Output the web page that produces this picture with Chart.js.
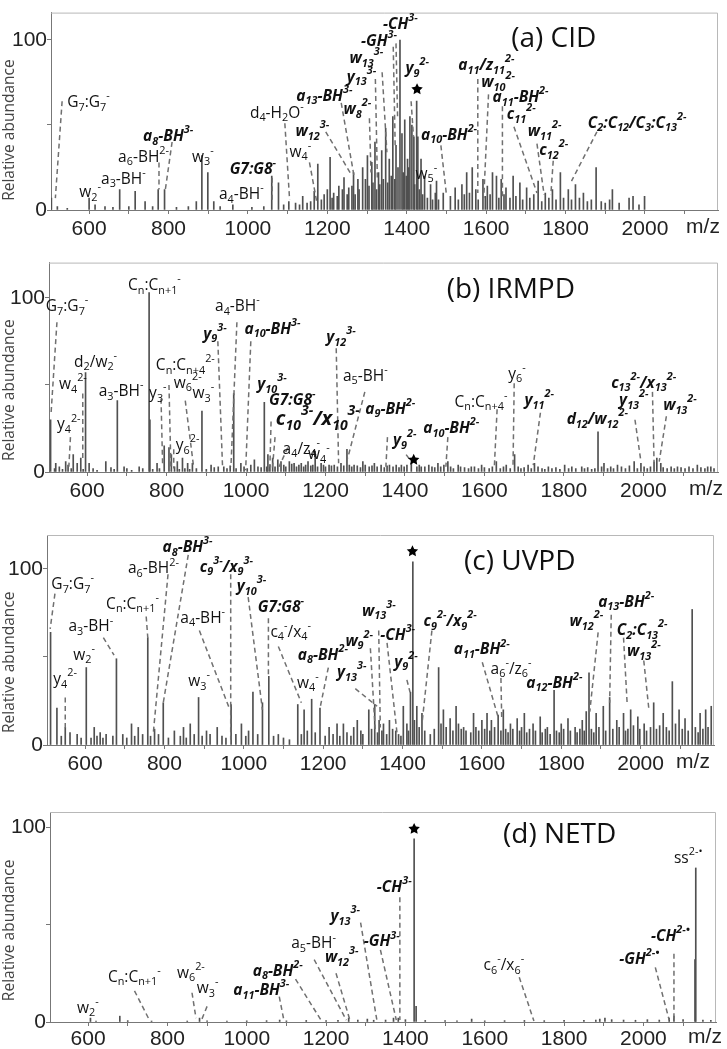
<!DOCTYPE html>
<html lang="en">
<head>
<meta charset="UTF-8">
<title>Tandem mass spectra: CID, IRMPD, UVPD, NETD</title>
<script src="https://cdn.jsdelivr.net/npm/chart.js@4.4.1/dist/chart.umd.min.js"></script>
<style>
  body { margin: 0; background: #fff; }
  #wrap { position: relative; width: 727px; height: 1049px; overflow: hidden; }
  #wrap canvas { position: absolute; left: 0; }
</style>
</head>
<body>
<div id="wrap">
  <canvas id="cid"></canvas>
  <canvas id="irmpd"></canvas>
  <canvas id="uvpd"></canvas>
  <canvas id="netd"></canvas>
</div>
<script>
// ---- peaks: [m/z, relative abundance] ----
var cidPeaks = [[505,7],[600,7],[615,3],[677,12],[716,11],[741,5],[774,12],[790,12],[870,5],[884,32],[899,22],[914,5],[962,3],
  [1060,20],[1077,16],[1103,5],[1138,8],[1149,4],[1167,11],[1176,27],[1207,31],[1216,10],[1229,14],[1242,19],[1254,13],[1266,22],
  [1277,18],[1289,25],[1301,32],[1312,28],[1320,40],[1329,22],[1337,35],[1347,48],[1356,30],[1365,55],[1373,38],[1383,100],
  [1388,45],[1395,53],[1402,30],[1408,55],[1413,50],[1418,43],[1425,64],[1428,43],[1436,30],[1445,20],[1460,15],[1472,10],
  [1475,17],[1492,10],[1522,13],[1539,15],[1551,22],[1565,25],[1574,12],[1592,18],[1603,14],[1616,22],[1626,20],[1638,18],
  [1650,13],[1668,20],[1685,16],[1702,13],[1720,9],[1731,17],[1749,10],[1767,12],[1787,22],[1807,12],[1825,15],[1845,10],
  [1877,25],[1911,6],[1918,12],[1960,7],[1970,8],[1999,8]];
var cidGrass = [[520,2],[545,1],[640,2],[660,1.5],[700,2],[760,2],[820,1.5],[850,2],[930,2],[1010,1.5],[1040,2],[1090,3],
  [1120,4],[1130,3],[1158,5],[1185,6],[1192,9],[1200,12],[1212,7],[1225,8],[1238,12],[1250,9],[1262,14],[1270,9],[1280,12],
  [1296,18],[1305,14],[1315,16],[1324,12],[1332,15],[1341,18],[1352,16],[1361,20],[1370,18],[1378,25],[1391,22],[1399,20],
  [1405,25],[1420,15],[1432,12],[1440,9],[1452,7],[1465,6],[1480,6],[1510,8],[1530,6],[1545,9],[1558,10],[1580,6],[1598,8],
  [1610,9],[1632,7],[1645,9],[1660,7],[1675,8],[1692,6],[1710,7],[1740,5],[1758,7],[1776,6],[1795,7],[1815,6],[1835,7],
  [1855,5],[1865,6],[1890,5],[1900,4],[1935,4],[1985,3]];

var irmpdPeaks = [[508,30],[521,5],[546,6],[552,4],[565,10],[575,5],[584,8],[596,57],[605,5],[647,6],[676,41],[693,3],[731,3],
  [756,103],[758,30],[776,5],[794,15],[806,14],[812,10],[827,6],[840,8],[853,5],[865,5],[889,35],[912,4],[944,3],[969,45],
  [987,5],[1021,7],[1046,40],[1055,10],[1067,8],[1080,7],[1088,6],[1109,6],[1121,5],[1139,5],[1156,6],[1174,12],[1189,5],
  [1209,4],[1239,5],[1254,13],[1272,4],[1294,6],[1323,5],[1361,4],[1391,4],[1416,5],[1441,3],[1483,5],[1508,6],[1534,4],
  [1567,3],[1593,4],[1630,6],[1655,4],[1676,10],[1710,4],[1726,5],[1761,3],[1802,4],[1845,3],[1886,23],[1901,5],[1935,4],
  [1977,6],[1994,5],[2027,6],[2034,8],[2044,5],[2086,3],[2136,4],[2170,3]];
var irmpdGrass = [[518,2],[530,3],[538,1.5],[560,2],[590,1.5],[615,2],[625,1],[660,2.5],[668,1.5],[700,2],[712,1],[740,2],
  [765,1.5],[782,2],[820,3],[832,1.5],[846,2],[858,1.5],[875,2],[900,1.5],[920,2.5],[930,3],[952,2],[960,3.5],[975,2],
  [995,3],[1003,2],[1012,4],[1030,3],[1038,2.5],[1052,3],[1060,4],[1073,3],[1095,4],[1100,3],[1115,4.5],[1127,3],[1133,4],
  [1145,3],[1150,4],[1163,3.5],[1168,4],[1180,3],[1195,4],[1200,3],[1215,3.5],[1222,4],[1230,3],[1246,3.5],[1260,4],
  [1266,3],[1280,3.5],[1288,2.5],[1300,4],[1310,3],[1317,3.5],[1330,3],[1340,4],[1348,2.5],[1355,3.5],[1370,3],[1378,4],
  [1385,2.5],[1398,3],[1405,4],[1430,3],[1436,4],[1450,3],[1460,4],[1468,3],[1475,2.5],[1490,3],[1498,4],[1515,3],[1522,2],
  [1540,3],[1550,2.5],[1560,2],[1575,3],[1585,2],[1600,2.5],[1612,2],[1620,3],[1640,2],[1648,3],[1665,2],[1685,3],[1692,2],
  [1700,2.5],[1718,2],[1735,3],[1745,2],[1752,1.5],[1770,2],[1780,2.5],[1790,1.5],[1812,2],[1820,3],[1830,2],[1852,2],
  [1860,2.5],[1870,1.5],[1878,2],[1895,3],[1910,2],[1918,3],[1925,2],[1945,3],[1955,2],[1965,3.5],[1985,2],[2002,3],
  [2010,2],[2018,3],[2050,2.5],[2060,2],[2070,3],[2078,2],[2095,2.5],[2105,2],[2115,3],[2125,2],[2145,2.5],[2155,2],
  [2162,3],[2178,2]];

var uvpdPeaks = [[513,64],[529,21],[550,10],[562,7],[603,44],[623,10],[638,7],[653,6],[679,49],[717,12],[734,10],[758,61],
  [775,9],[797,24],[825,8],[848,10],[865,12],[886,27],[906,8],[933,10],[968,23],[994,12],[1023,30],[1047,24],[1063,39],
  [1087,6],[1136,23],[1152,20],[1171,26],[1192,21],[1215,10],[1235,12],[1251,12],[1277,10],[1286,14],[1315,20],[1330,23],
  [1341,14],[1352,12],[1367,14],[1383,8],[1402,22],[1411,12],[1420,30],[1426,104],[1436,22],[1449,18],[1491,44],[1503,20],
  [1520,15],[1535,22],[1554,10],[1579,18],[1600,14],[1613,18],[1624,14],[1641,17],[1654,20],[1672,12],[1689,15],[1707,18],
  [1729,12],[1747,16],[1765,10],[1782,31],[1800,12],[1817,15],[1835,10],[1853,14],[1863,19],[1870,41],[1888,18],[1906,22],
  [1922,27],[1940,14],[1957,18],[1975,20],[1993,16],[2009,12],[2033,24],[2057,18],[2080,36],[2097,20],[2112,15],[2130,77],
  [2150,18],[2164,20],[2178,22]];
var uvpdGrass = [[540,5],[580,6],[590,4],[615,4],[630,5],[645,4],[670,5],[695,6],[705,4],[725,5],[745,6],[765,5],[785,6],
  [810,4],[840,5],[855,4],[875,6],[895,5],[915,6],[945,5],[955,4],[980,6],[1005,5],[1012,8],[1035,6],[1075,5],[1100,4],
  [1115,3],[1145,6],[1160,8],[1180,7],[1205,5],[1225,6],[1242,5],[1260,7],[1270,5],[1295,8],[1300,6],[1322,9],[1337,7],
  [1348,8],[1360,6],[1375,9],[1390,6],[1396,5],[1415,8],[1430,14],[1442,10],[1456,8],[1470,6],[1480,9],[1497,12],[1510,10],
  [1527,8],[1541,12],[1548,9],[1560,8],[1572,7],[1585,10],[1592,8],[1607,9],[1620,8],[1632,10],[1648,8],[1660,9],[1666,7],
  [1678,9],[1695,8],[1700,10],[1713,7],[1720,9],[1735,8],[1752,7],[1760,9],[1772,6],[1788,8],[1795,7],[1806,9],[1823,8],
  [1840,7],[1847,9],[1858,8],[1876,9],[1882,7],[1895,10],[1912,8],[1930,9],[1946,10],[1962,8],[1968,9],[1982,11],[1998,9],
  [2015,8],[2025,10],[2040,9],[2048,11],[2065,10],[2072,8],[2088,12],[2105,9],[2120,8],[2138,10],[2145,7],[2157,9],[2170,10]];

var netdPeaks = [[606,2],[680,3],[881,2],[1083,1],[1257,2],[1304,1.5],[1370,2],[1382,2],[1422,94],[1427,8],[1567,1.5],
  [1890,1.5],[1903,2],[2065,2],[2077,3],[2130,32],[2132,79]];
var netdGrass = [[620,0.5],[700,0.7],[760,0.5],[850,0.5],[900,0.6],[950,0.5],[1000,0.6],[1050,0.7],[1100,0.6],[1150,0.8],
  [1200,0.7],[1230,0.8],[1280,1],[1320,0.9],[1350,1],[1400,1.2],[1450,0.8],[1500,0.7],[1530,0.6],[1600,0.6],[1650,0.7],
  [1700,0.8],[1750,0.7],[1800,0.8],[1850,0.9],[1880,1],[1920,1.2],[1950,1],[1980,0.9],[2010,1.2],[2040,1],[2100,1.3],
  [2150,1],[2170,0.8]];

var xTickLabels = [600, 800, 1000, 1200, 1400, 1600, 1800, 2000];
var yTickLabels = [0, 100];

// ---- peak annotations: [label, kind, text m/z, text abundance, leader from m/z, ab, to m/z, ab] ----
// kind: n normal, b bold italic, B big bold italic, s star
var cidNotes = [
  ['G_{7}:G_{7}^{-}','n',545,63, 532,64, 515,7],
  ['w_{2}^{-}','n',575,10],
  ['a_{3}-BH^{-}','n',630,18],
  ['a_{6}-BH^{2-}','n',673,31, 776,28, 776,12],
  ['a_{8}-BH^{3-}','b',736,43, 809,40, 792,12],
  ['w_{3}^{-}','n',859,31],
  ['a_{4}-BH^{-}','n',927,9],
  ['G7:G8^{-}','b',954,24, 1061,19, 1061,6],
  ['d_{4}-H_{2}O^{-}','n',1005,57, 1093,51, 1105,6],
  ['w_{4}^{-}','n',1105,34, 1155,28, 1174,4],
  ['w_{12}^{3-}','b',1120,46, 1196,46, 1260,21],
  ['a_{13}-BH^{3-}','b',1122,67, 1235,63, 1268,19],
  ['w_{8}^{2-}','b',1241,59, 1306,54, 1310,22],
  ['y_{13}^{3-}','b',1249,78, 1321,77, 1326,19],
  ['w_{13}^{3-}','b',1256,89, 1338,81, 1350,34],
  ['-GH^{3-}','b',1285,99, 1366,96, 1371,37],
  ['-CH^{3-}','b',1340,109, 1373,98, 1377,54],
  ['y_{9}^{2-}','b',1397,83, 1411,64, 1417,43],
  ['*','s',1426,71],
  ['a_{10}-BH^{2-}','b',1436,44, 1486,38, 1500,9],
  ['w_{5}^{-}','n',1422,21],
  ['a_{11}/z_{11}^{2-}','b',1530,85, 1579,77, 1579,10],
  ['w_{10}^{2-}','b',1588,75, 1606,68, 1594,7],
  ['a_{11}-BH^{2-}','b',1616,66, 1641,61, 1641,7],
  ['c_{11}^{2-}','b',1652,56, 1670,49, 1728,10],
  ['w_{11}^{2-}','b',1705,46, 1728,39, 1746,9],
  ['c_{12}^{2-}','b',1734,35, 1769,29, 1763,9],
  ['C_{2}:C_{12}/C_{3}:C_{13}^{2-}','b',1856,51, 1879,46, 1815,17]
];
var irmpdNotes = [
  ['G_{7}:G_{7}^{-}','n',496,95, 524,86, 509,33],
  ['w_{4}^{2-}','n',529,50, 589,45, 589,6],
  ['d_{2}/w_{2}^{-}','n',567,63],
  ['y_{4}^{2-}','n',524,27, 558,20, 554,3],
  ['a_{3}-BH^{-}','n',629,46],
  ['C_{n}:C_{n+1}^{-}','n',703,107],
  ['C_{n}:C_{n+4}^{2-}','n',773,61, 806,50, 811,1],
  ['y_{3}^{-}','n',756,45, 786,42, 790,4],
  ['w_{6}^{2-}','n',818,51, 847,41, 868,3],
  ['w_{3}^{-}','n',865,45],
  ['y_{6}^{2-}','n',823,15, 818,13, 818,2],
  ['a_{4}-BH^{-}','n',922,95, 977,86, 962,3],
  ['y_{9}^{3-}','b',892,79, 929,75, 941,2],
  ['a_{10}-BH^{3-}','b',996,82, 1012,75, 999,1],
  ['y_{10}^{3-}','b',1028,50],
  ['G7:G8^{-}','b',1058,41, 1063,29, 1060,3],
  ['c_{10}^{3-}/x_{10}^{3-}','B',1075,30, 1073,20, 1066,1],
  ['a_{4}/z_{4}^{-}','n',1092,13, 1105,14, 1083,3],
  ['w_{4}^{-}','n',1156,10],
  ['y_{12}^{3-}','b',1202,77, 1227,71, 1233,5],
  ['a_{5}-BH^{-}','n',1244,55, 1299,46, 1256,8],
  ['a_{9}-BH^{2-}','b',1300,36, 1356,20, 1352,3],
  ['y_{9}^{2-}','b',1370,18, 1403,10, 1416,6],
  ['*','s',1422,7],
  ['a_{10}-BH^{2-}','b',1446,25, 1508,20, 1503,3],
  ['C_{n}:C_{n+4}^{-}','n',1525,40, 1632,36, 1625,3],
  ['y_{6}^{-}','n',1660,56, 1675,51, 1672,3],
  ['y_{11}^{2-}','b',1701,41, 1741,34, 1723,4],
  ['d_{12}/w_{12}^{2-}','b',1807,30],
  ['y_{13}^{2-}','b',1939,41, 1979,30, 1994,6],
  ['c_{13}^{2-}/x_{13}^{2-}','b',1919,51, 2023,46, 2027,6],
  ['w_{13}^{2-}','b',2050,38, 2058,32, 2040,6]
];
var uvpdNotes = [
  ['G_{7}:G_{7}^{-}','n',515,91, 524,86, 512,66],
  ['a_{3}-BH^{-}','n',558,67, 646,61, 673,51],
  ['w_{2}^{-}','n',570,51],
  ['y_{4}^{2-}','n',520,37, 550,27, 550,10],
  ['a_{6}-BH^{2-}','n',708,100, 809,97, 772,7],
  ['C_{n}:C_{n+1}^{-}','n',653,80, 754,73, 758,61],
  ['a_{8}-BH^{3-}','b',795,112, 860,108, 797,24],
  ['a_{4}-BH^{-}','n',840,72, 888,65, 965,20],
  ['w_{3}^{-}','n',860,36],
  ['c_{9}^{3-}/x_{9}^{3-}','b',889,101, 967,97, 967,3],
  ['y_{10}^{3-}','b',982,90, 1011,84, 1047,20],
  ['G7:G8^{-}','b',1035,78, 1062,72, 1062,39],
  ['c_{4}^{-}/x_{4}^{-}','n',1067,64, 1087,56, 1145,24],
  ['a_{8}-BH^{2-}','b',1136,51, 1213,44, 1193,22],
  ['w_{4}^{-}','n',1134,35],
  ['y_{13}^{3-}','b',1235,41, 1281,32, 1336,22],
  ['w_{9}^{2-}','b',1256,59, 1319,55, 1331,9],
  ['w_{13}^{3-}','b',1298,76, 1340,65, 1344,10],
  ['-CH^{3-}','b',1344,62, 1361,58, 1386,7],
  ['y_{9}^{2-}','b',1379,47, 1411,37, 1419,30],
  ['*','s',1425,110],
  ['c_{9}^{2-}/x_{9}^{2-}','b',1453,70, 1474,65, 1449,12],
  ['a_{11}-BH^{2-}','b',1529,54, 1601,47, 1642,15],
  ['a_{6}^{-}/z_{6}^{-}','n',1622,43, 1648,38, 1650,15],
  ['a_{12}-BH^{2-}','b',1712,35],
  ['w_{12}^{2-}','b',1821,70, 1893,64, 1872,19],
  ['a_{13}-BH^{2-}','b',1893,81, 1926,74, 1922,24],
  ['C_{2}:C_{13}^{2-}','b',1940,65, 1957,61, 1966,24],
  ['w_{13}^{2-}','b',1966,53, 2008,48, 2021,20]
];
var netdNotes = [
  ['w_{2}^{-}','n',572,7],
  ['C_{n}:C_{n+1}^{-}','n',650,23, 717,16, 752,2],
  ['w_{6}^{2-}','n',824,25, 862,15, 872,2],
  ['w_{3}^{-}','n',874,17, 900,8, 885,0.5],
  ['a_{11}-BH^{3-}','b',966,16, 1082,13, 1094,0.5],
  ['a_{8}-BH^{2-}','b',1015,26, 1123,22, 1187,1],
  ['a_{5}-BH^{-}','n',1112,40, 1170,32, 1251,1],
  ['w_{12}^{3-}','b',1197,33, 1225,25, 1260,1],
  ['y_{13}^{3-}','b',1211,54, 1287,51, 1328,1],
  ['-GH^{3-}','b',1295,41, 1337,37, 1377,1],
  ['-CH^{3-}','b',1328,69, 1386,64, 1386,1],
  ['*','s',1422,99],
  ['c_{6}^{-}/x_{6}^{-}','n',1597,29, 1687,23, 1724,0.5],
  ['-GH^{2-\u2022}','b',1939,32, 2030,28, 2065,1],
  ['-CH^{2-\u2022}','b',2019,44, 2077,35, 2077,1.5],
  ['ss^{2-\u2022}','n',2077,84]
];

var panels = [
  {id:'cid',   top:0,   height:250, areaTop:1,  areaBottom:210, left:51, right:718, xMax:2184, yMax:116.1,
   peaks:cidPeaks, grass:cidGrass, notes:cidNotes, title:'(a) CID', titleAt:[1663,100.5], tickPad:3, mzX:703},
  {id:'irmpd', top:250, height:262, areaTop:8,  areaBottom:222, left:49, right:718, xMax:2188, yMax:120.2,
   peaks:irmpdPeaks, grass:irmpdGrass, notes:irmpdNotes, title:'(b) IRMPD', titleAt:[1505,104.5], tickPad:3, mzX:706},
  {id:'uvpd',  top:512, height:275, areaTop:23, areaBottom:233, left:47, right:714, xMax:2185, yMax:119.3,
   peaks:uvpdPeaks, grass:uvpdGrass, notes:uvpdNotes, title:'(c) UVPD', titleAt:[1555,104], tickPad:3, mzX:693},
  {id:'netd',  top:787, height:262, areaTop:25, areaBottom:235, left:50, right:716, xMax:2183, yMax:107.7,
   peaks:netdPeaks, grass:netdGrass, notes:netdNotes, title:'(d) NETD', titleAt:[1646,96], tickPad:1, mzX:705}
];

var noteFont = '"Open Sans", "Noto Sans", sans-serif';
var tickFont = '"Liberation Sans", Arial, sans-serif';

function richText(ctx, str, x, y, kind) {
  var size = kind === 'B' ? 20 : (kind === 't' ? 28 : 15.5);
  var style = (kind === 'b' || kind === 'B') ? 'italic bold ' : '';
  var parts = str.split(/(_\{[^}]*\}|\^\{[^}]*\})/).filter(Boolean);
  var cx = x;
  ctx.textAlign = 'left';
  ctx.textBaseline = 'middle';
  ctx.fillStyle = '#111';
  parts.forEach(function (part) {
    var txt = part, fs = size, dy = 0;
    if (part[0] === '_') { txt = part.slice(2, -1); fs = size * 0.7; dy = size * 0.32; }
    else if (part[0] === '^') { txt = part.slice(2, -1); fs = size * 0.7; dy = -size * 0.42; }
    ctx.font = style + fs + 'px ' + noteFont;
    ctx.fillText(txt, cx, y + dy);
    cx += ctx.measureText(txt).width;
  });
}

function drawStar(ctx, cx, cy, r) {
  ctx.beginPath();
  for (var i = 0; i < 10; i++) {
    var a = -Math.PI / 2 + i * Math.PI / 5;
    var rr = i % 2 ? r * 0.5 : r;
    ctx.lineTo(cx + rr * Math.cos(a), cy + rr * Math.sin(a));
  }
  ctx.closePath();
  ctx.fillStyle = '#000';
  ctx.fill();
}

function notesPlugin(p) {
  return {
    id: 'notes_' + p.id,
    afterDraw: function (chart) {
      var ctx = chart.ctx, xs = chart.scales.x, ys = chart.scales.y, area = chart.chartArea;
      ctx.save();
      // light frame on top and right
      ctx.strokeStyle = '#b8b8b8';
      ctx.lineWidth = 1;
      ctx.beginPath();
      ctx.moveTo(area.left, area.top + 0.5);
      ctx.lineTo(area.right - 0.5, area.top + 0.5);
      ctx.lineTo(area.right - 0.5, area.bottom);
      ctx.stroke();

      // y title
      ctx.save();
      ctx.translate(10, ys.getPixelForValue(47));
      ctx.rotate(-Math.PI / 2);
      ctx.textAlign = 'center';
      ctx.textBaseline = 'middle';
      ctx.fillStyle = '#444';
      ctx.font = '15.5px ' + noteFont;
      ctx.fillText('Relative abundance', 0, 0);
      ctx.restore();

      // m/z label
      ctx.fillStyle = '#222';
      ctx.font = '21px ' + tickFont;
      ctx.textAlign = 'center';
      ctx.textBaseline = 'top';
      ctx.fillText('m/z', p.mzX, area.bottom + 4 + p.tickPad);

      // leaders
      ctx.setLineDash([5, 3.5]);
      ctx.strokeStyle = '#707070';
      ctx.lineWidth = 1.5;
      p.notes.forEach(function (n) {
        if (n.length > 4) {
          ctx.beginPath();
          ctx.moveTo(xs.getPixelForValue(n[4]), ys.getPixelForValue(n[5]));
          ctx.lineTo(xs.getPixelForValue(n[6]), ys.getPixelForValue(n[7]));
          ctx.stroke();
        }
      });
      ctx.setLineDash([]);

      // labels
      p.notes.forEach(function (n) {
        var tx = xs.getPixelForValue(n[2]), ty = ys.getPixelForValue(n[3]);
        if (n[1] === 's') drawStar(ctx, tx, ty, 6);
        else richText(ctx, n[0], tx, ty, n[1]);
      });
      richText(ctx, p.title, xs.getPixelForValue(p.titleAt[0]), ys.getPixelForValue(p.titleAt[1]), 't');
      ctx.restore();
    }
  };
}

function makeChart(p) {
  var canvas = document.getElementById(p.id);
  canvas.width = 727;
  canvas.height = p.height;
  canvas.style.top = p.top + 'px';
  var points = p.peaks.concat(p.grass).map(function (d) { return {x: d[0], y: d[1]}; });
  new Chart(canvas, {
    type: 'bar',
    data: { datasets: [{ data: points, backgroundColor: '#505050', borderWidth: 0, barThickness: 1 }] },
    options: {
      responsive: false,
      animation: false,
      devicePixelRatio: 1,
      layout: { padding: { top: p.areaTop, right: 727 - p.right, left: 0, bottom: 0 } },
      plugins: { legend: { display: false }, tooltip: { enabled: false } },
      scales: {
        x: {
          type: 'linear', min: 504, max: p.xMax, offset: false,
          grid: { display: true, drawOnChartArea: false, drawTicks: true, tickLength: 4, color: '#777', offset: false },
          border: { display: true, color: '#777', width: 1 },
          ticks: {
            stepSize: 100, includeBounds: false, autoSkip: false, maxRotation: 0, padding: p.tickPad,
            color: '#222', font: { family: tickFont, size: 21 },
            callback: function (v) { return xTickLabels.indexOf(v) >= 0 ? String(v) : ''; }
          },
          afterBuildTicks: function (s) { s.ticks = s.ticks.filter(function (t) { return t.value >= s.min && t.value <= s.max; }); },
          afterFit: function (s) { s.height = p.height - p.areaBottom; }
        },
        y: {
          min: 0, max: p.yMax,
          grid: { display: true, drawOnChartArea: false, drawTicks: true, tickLength: 4, color: '#777' },
          border: { display: true, color: '#777', width: 1 },
          ticks: {
            stepSize: 50, includeBounds: false, padding: 0,
            color: '#222', font: { family: tickFont, size: 21 },
            callback: function (v) { return yTickLabels.indexOf(v) >= 0 ? String(v) : ''; }
          },
          afterFit: function (s) { s.width = p.left; }
        }
      }
    },
    plugins: [notesPlugin(p)]
  });
}

panels.forEach(makeChart);
</script>
</body>
</html>
